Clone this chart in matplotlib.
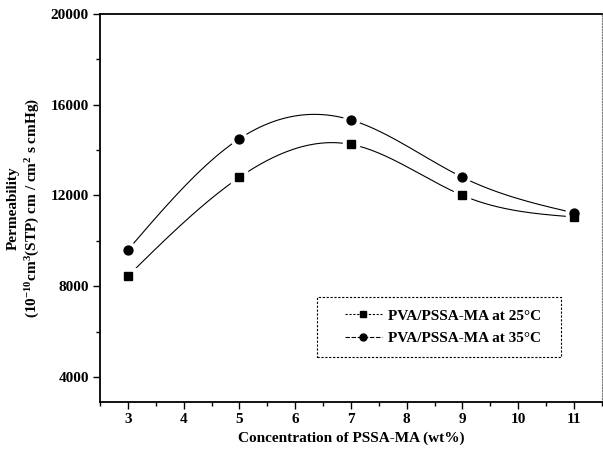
import numpy as np
import matplotlib
matplotlib.use("Agg")
import matplotlib.pyplot as plt
from matplotlib.lines import Line2D
from matplotlib.patches import Rectangle

# datos
conc = [3, 5, 7, 9, 11]
perm_25 = [8450, 12800, 14250, 12000, 11050]
perm_35 = [9600, 14500, 15330, 12800, 11230]
labels = ["PVA/PSSA-MA at 25°C", "PVA/PSSA-MA at 35°C"]

plt.rcParams["font.family"] = ["Liberation Serif", "DejaVu Serif"]
plt.rcParams["font.weight"] = "bold"
plt.rcParams["mathtext.fontset"] = "custom"
plt.rcParams["mathtext.rm"] = "Liberation Serif:bold"
plt.rcParams["mathtext.it"] = "Liberation Serif:bold"
plt.rcParams["mathtext.bf"] = "Liberation Serif:bold"


def spline(x, y, n=200):
    # spline cubica natural para la linea de union (estilo Origin)
    x = np.asarray(x, float)
    y = np.asarray(y, float)
    k = len(x)
    h = np.diff(x)
    A = np.zeros((k, k))
    b = np.zeros(k)
    A[0, 0] = A[-1, -1] = 1
    for i in range(1, k - 1):
        A[i, i - 1] = h[i - 1]
        A[i, i] = 2 * (h[i - 1] + h[i])
        A[i, i + 1] = h[i]
        b[i] = 6 * ((y[i + 1] - y[i]) / h[i] - (y[i] - y[i - 1]) / h[i - 1])
    M = np.linalg.solve(A, b)
    xs = np.linspace(x[0], x[-1], n)
    idx = np.clip(np.searchsorted(x, xs) - 1, 0, k - 2)
    x0, x1 = x[idx], x[idx + 1]
    hh = x1 - x0
    ys = (M[idx] * (x1 - xs) ** 3 / (6 * hh) + M[idx + 1] * (xs - x0) ** 3 / (6 * hh)
          + (y[idx] / hh - M[idx] * hh / 6) * (x1 - xs)
          + (y[idx + 1] / hh - M[idx + 1] * hh / 6) * (xs - x0))
    return xs, ys


fig = plt.figure(figsize=(6.03, 4.5), dpi=100)
ax = fig.add_axes([0.166, 0.107, 0.832, 0.862])

for vals, mk, ms in [(perm_25, "s", 6.0), (perm_35, "o", 6.4)]:
    xs, ys = spline(conc, vals)
    ax.plot(xs, ys, color="black", lw=0.8, zorder=2)
    ax.plot(conc, vals, linestyle="none", marker=mk, ms=ms + 5, color="white", zorder=3)
    ax.plot(conc, vals, linestyle="none", marker=mk, ms=ms, color="black", zorder=4)

ax.set_xlim(2.5, 11.5)
ax.set_ylim(2900, 20000)
ax.set_xticks(range(3, 12))
ax.set_xticks(np.arange(2.5, 11.6, 0.5), minor=True)
ax.set_yticks([4000, 8000, 12000, 16000, 20000])
ax.set_yticks([6000, 10000, 14000, 18000], minor=True)
ax.tick_params(axis="both", which="major", direction="out", length=5, width=1, labelsize=11, pad=3)
ax.tick_params(axis="both", which="minor", direction="out", length=3, width=1)

ax.spines["left"].set_linewidth(1.3)
ax.spines["bottom"].set_linewidth(1.3)
ax.spines["top"].set_linewidth(1.3)
ax.spines["right"].set_linestyle((0, (1, 1.5)))
ax.spines["right"].set_color("#777777")

ax.set_xlabel("Concentration of PSSA-MA (wt%)", fontsize=11, fontweight="bold", labelpad=4)
ax.set_ylabel("Permeability\n(10$^{-10}$cm$^{3}$(STP) cm / cm$^{2}$ s cmHg)",
              fontsize=11, fontweight="bold", labelpad=6, linespacing=1.3)

# caja de la leyenda (borde punteado)
ax.add_patch(Rectangle((0.432, 0.116), 0.486, 0.155, transform=ax.transAxes,
                       fill=False, edgecolor="black", lw=0.8, ls=(0, (2, 1.5)), zorder=5))

handles = [
    Line2D([], [], color="black", lw=0.8, ls=(0, (2, 1.5)), marker="s", ms=4.5),
    Line2D([], [], color="black", lw=0.8, ls=(0, (4, 1.5)), marker="o", ms=5),
]
leg = ax.legend(handles, labels, loc="center left", bbox_to_anchor=(0.488, 0.193),
                fontsize=11, frameon=False, borderpad=0, borderaxespad=0,
                handlelength=2.4, handletextpad=0.4, labelspacing=0.55)

fig.savefig("out.png", dpi=100)
